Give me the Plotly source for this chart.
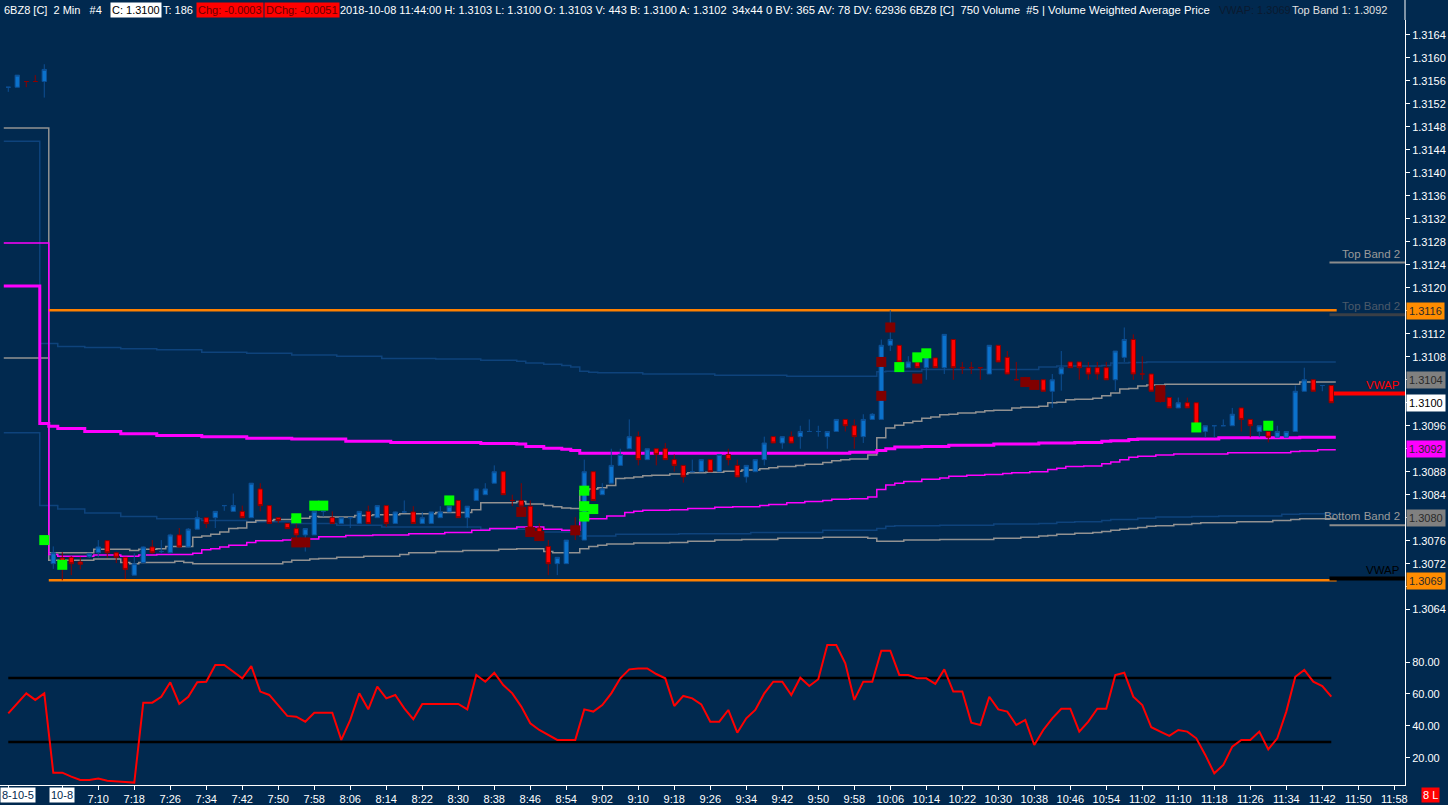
import plotly.graph_objects as go

# bar number: 0 = 7:00 on 2018-10-08, one bar = 2 minutes; bars -5..-1 are the end of 2018-10-05
bars = list(range(-5, 143))

opens = [
    1.31549, 1.31549, 1.31559, 1.31559, 1.31559,
    1.30720, 1.30730, 1.30731, 1.30723, 1.30732, 1.30739, 1.30760, 1.30739, 1.30731, 1.30700,
    1.30722, 1.30749, 1.30741, 1.30739, 1.30770, 1.30749, 1.30780, 1.30800, 1.30800, 1.30821,
    1.30811, 1.30811, 1.30800, 1.30850, 1.30821, 1.30800, 1.30790, 1.30781, 1.30770, 1.30770,
    1.30811, 1.30800, 1.30790, 1.30800, 1.30790, 1.30811, 1.30800, 1.30821, 1.30790, 1.30810,
    1.30810, 1.30790, 1.30790, 1.30800, 1.30810, 1.30830, 1.30800, 1.30830, 1.30840, 1.30860,
    1.30880, 1.30830, 1.30830, 1.30820, 1.30782, 1.30750, 1.30720, 1.30720, 1.30785, 1.30761,
    1.30880, 1.30840, 1.30860, 1.30891, 1.30920, 1.30941, 1.30901, 1.30920, 1.30920, 1.30901,
    1.30891, 1.30880, 1.30880, 1.30901, 1.30880, 1.30910, 1.30891, 1.30871, 1.30880, 1.30901,
    1.30941, 1.30930, 1.30941, 1.30941, 1.30950, 1.30950, 1.30941, 1.30950, 1.30971, 1.30960,
    1.30941, 1.30971, 1.30971, 1.31100, 1.31100, 1.31061, 1.31071, 1.31061, 1.31078, 1.31061,
    1.31110, 1.31061, 1.31061, 1.31061, 1.31050, 1.31100, 1.31079, 1.31040, 1.31040, 1.31035,
    1.31040, 1.31020, 1.31050, 1.31071, 1.31071, 1.31061, 1.31061, 1.31061, 1.31040, 1.31079,
    1.31110, 1.31050, 1.31050, 1.31028, 1.31009, 1.30991, 1.31000, 1.31000, 1.30950, 1.30960,
    1.30960, 1.30960, 1.30991, 1.30971, 1.30950, 1.30950, 1.30940, 1.30940, 1.30950, 1.31020,
    1.31040, 1.31030, 1.31030,
]
highs = [
    1.31549, 1.31570, 1.31559, 1.31570, 1.31589,
    1.30750, 1.30740, 1.30733, 1.30732, 1.30738, 1.30761, 1.30761, 1.30741, 1.30731, 1.30738,
    1.30750, 1.30761, 1.30761, 1.30772, 1.30782, 1.30782, 1.30812, 1.30800, 1.30811, 1.30821,
    1.30842, 1.30821, 1.30860, 1.30860, 1.30821, 1.30800, 1.30790, 1.30790, 1.30781, 1.30811,
    1.30811, 1.30811, 1.30800, 1.30800, 1.30811, 1.30821, 1.30821, 1.30821, 1.30811, 1.30830,
    1.30820, 1.30810, 1.30810, 1.30820, 1.30820, 1.30830, 1.30820, 1.30850, 1.30860, 1.30891,
    1.30880, 1.30840, 1.30860, 1.30830, 1.30790, 1.30761, 1.30731, 1.30761, 1.30801, 1.30901,
    1.30880, 1.30860, 1.30920, 1.30920, 1.30971, 1.30950, 1.30920, 1.30920, 1.30930, 1.30910,
    1.30891, 1.30901, 1.30901, 1.30901, 1.30910, 1.30920, 1.30901, 1.30891, 1.30901, 1.30941,
    1.30941, 1.30941, 1.30950, 1.30960, 1.30971, 1.30960, 1.30950, 1.30971, 1.30971, 1.30971,
    1.30980, 1.30982, 1.31110, 1.31161, 1.31100, 1.31081, 1.31071, 1.31081, 1.31078, 1.31119,
    1.31110, 1.31071, 1.31071, 1.31061, 1.31100, 1.31100, 1.31090, 1.31071, 1.31045, 1.31040,
    1.31040, 1.31050, 1.31090, 1.31071, 1.31071, 1.31071, 1.31071, 1.31071, 1.31090, 1.31131,
    1.31119, 1.31081, 1.31050, 1.31030, 1.31009, 1.31009, 1.31009, 1.31000, 1.30960, 1.30960,
    1.30971, 1.30991, 1.30991, 1.30971, 1.30960, 1.30950, 1.30960, 1.30950, 1.31030, 1.31061,
    1.31040, 1.31030, 1.31030,
]
lows = [
    1.31541, 1.31549, 1.31549, 1.31559, 1.31531,
    1.30711, 1.30691, 1.30700, 1.30710, 1.30730, 1.30731, 1.30730, 1.30721, 1.30693, 1.30700,
    1.30720, 1.30737, 1.30738, 1.30737, 1.30748, 1.30748, 1.30780, 1.30782, 1.30782, 1.30812,
    1.30810, 1.30800, 1.30800, 1.30811, 1.30790, 1.30790, 1.30781, 1.30761, 1.30741, 1.30770,
    1.30802, 1.30790, 1.30790, 1.30782, 1.30790, 1.30790, 1.30800, 1.30784, 1.30790, 1.30808,
    1.30790, 1.30790, 1.30790, 1.30800, 1.30810, 1.30800, 1.30782, 1.30830, 1.30840, 1.30860,
    1.30840, 1.30820, 1.30820, 1.30782, 1.30760, 1.30700, 1.30700, 1.30720, 1.30761, 1.30761,
    1.30830, 1.30840, 1.30860, 1.30891, 1.30920, 1.30891, 1.30901, 1.30891, 1.30901, 1.30880,
    1.30861, 1.30880, 1.30880, 1.30880, 1.30880, 1.30891, 1.30871, 1.30861, 1.30880, 1.30891,
    1.30930, 1.30920, 1.30930, 1.30920, 1.30950, 1.30941, 1.30920, 1.30950, 1.30950, 1.30920,
    1.30930, 1.30970, 1.30971, 1.31090, 1.31065, 1.31061, 1.31061, 1.31040, 1.31061, 1.31050,
    1.31040, 1.31050, 1.31050, 1.31040, 1.31050, 1.31071, 1.31050, 1.31040, 1.31030, 1.31025,
    1.31020, 1.30991, 1.31021, 1.31061, 1.31040, 1.31040, 1.31040, 1.31040, 1.31021, 1.31071,
    1.31040, 1.31040, 1.31020, 1.31000, 1.30991, 1.30991, 1.30991, 1.30960, 1.30940, 1.30940,
    1.30960, 1.30960, 1.30950, 1.30940, 1.30940, 1.30931, 1.30940, 1.30940, 1.30950, 1.31020,
    1.31020, 1.31020, 1.31000,
]
closes = [
    1.31549, 1.31570, 1.31559, 1.31559, 1.31580,
    1.30739, 1.30712, 1.30720, 1.30719, 1.30738, 1.30749, 1.30739, 1.30731, 1.30710, 1.30720,
    1.30749, 1.30739, 1.30741, 1.30770, 1.30749, 1.30780, 1.30800, 1.30790, 1.30811, 1.30821,
    1.30821, 1.30800, 1.30860, 1.30821, 1.30790, 1.30795, 1.30781, 1.30770, 1.30781, 1.30811,
    1.30811, 1.30790, 1.30800, 1.30800, 1.30811, 1.30790, 1.30821, 1.30790, 1.30810, 1.30810,
    1.30790, 1.30800, 1.30810, 1.30810, 1.30820, 1.30800, 1.30820, 1.30850, 1.30850, 1.30880,
    1.30840, 1.30830, 1.30820, 1.30782, 1.30765, 1.30720, 1.30731, 1.30761, 1.30775, 1.30880,
    1.30830, 1.30850, 1.30891, 1.30910, 1.30941, 1.30901, 1.30920, 1.30910, 1.30901, 1.30891,
    1.30871, 1.30880, 1.30901, 1.30880, 1.30910, 1.30901, 1.30871, 1.30891, 1.30901, 1.30930,
    1.30930, 1.30941, 1.30930, 1.30950, 1.30950, 1.30950, 1.30950, 1.30971, 1.30960, 1.30941,
    1.30971, 1.30980, 1.31100, 1.31110, 1.31071, 1.31071, 1.31061, 1.31081, 1.31061, 1.31119,
    1.31061, 1.31061, 1.31061, 1.31061, 1.31100, 1.31071, 1.31050, 1.31040, 1.31035, 1.31030,
    1.31020, 1.31040, 1.31061, 1.31061, 1.31061, 1.31050, 1.31050, 1.31040, 1.31090, 1.31110,
    1.31050, 1.31050, 1.31020, 1.31003, 1.30991, 1.31000, 1.30991, 1.30960, 1.30960, 1.30960,
    1.30960, 1.30980, 1.30971, 1.30960, 1.30960, 1.30940, 1.30950, 1.30950, 1.31020, 1.31040,
    1.31020, 1.31030, 1.31000,
]

rsi = [
    47.9, 54.0, 60.4, 56.3, 60.4,
    10.8, 10.8, 8.3, 6.3, 6.3, 7.1, 5.8, 5.6, 5.0, 4.6,
    54.6, 54.6, 58.3, 67.3, 53.8, 58.3, 67.3, 67.7, 78.1, 78.1,
    74.0, 69.8, 77.5, 61.5, 59.4, 53.1, 46.3, 45.8, 42.7, 48.3,
    48.3, 48.3, 31.3, 43.8, 60.4, 50.4, 64.6, 57.3, 59.4, 51.0,
    44.2, 53.8, 53.8, 53.8, 53.8, 53.8, 50.4, 71.9, 67.7, 73.3,
    65.6, 60.4, 52.1, 41.7, 37.5, 34.4, 31.3, 31.3, 31.3, 50.4,
    49.0, 53.1, 60.4, 69.8, 75.4, 76.0, 76.0, 72.5, 69.8, 52.5,
    58.8, 57.3, 53.5, 42.7, 42.7, 50.0, 35.8, 44.8, 50.0, 60.4,
    67.7, 67.7, 59.4, 70.2, 65.0, 69.2, 90.6, 90.6, 79.2, 56.3,
    67.7, 67.7, 87.1, 87.1, 71.9, 71.9, 69.8, 69.8, 66.3, 75.4,
    61.5, 61.5, 42.1, 40.6, 58.3, 50.4, 49.0, 40.6, 43.8, 28.1,
    37.5, 44.8, 50.8, 50.8, 36.5, 42.7, 50.8, 50.8, 71.9, 73.3,
    58.3, 53.1, 39.2, 36.5, 33.8, 37.5, 36.5, 32.3, 21.9, 10.4,
    15.6, 27.1, 31.3, 31.3, 36.5, 25.4, 32.3, 49.0, 70.8, 75.0,
    67.7, 65.0, 58.3,
]
rsi_levels = [70, 30]
rsi_ticks = ["20.00", "40.00", "60.00", "80.00"]

# stepped band lines: bar where a new value begins, and that value
vwap_bars = [-5, 0, 5, 9, 10, 12, 13, 16, 17, 18, 19, 20, 21, 22, 23, 25, 27, 29, 30, 34,
             36, 39, 43, 47, 48, 52, 53, 55, 56, 57, 58, 59, 60, 61, 62, 63, 64, 65, 66, 67,
             69, 71, 73, 75, 77, 79, 80, 81, 83, 84, 86, 87, 88, 89, 91, 92, 93, 94, 95, 96,
             97, 98, 99, 100, 101, 103, 104, 105, 107, 108, 110, 111, 112, 113, 114, 116, 117, 118, 119, 120,
             121, 122, 124, 139]
vwap_vals = [1.31478, 1.30739, 1.30745, 1.30743, 1.30745, 1.30746, 1.30750, 1.30766, 1.30768, 1.30771,
             1.30775, 1.30781, 1.30782, 1.30792, 1.30795, 1.30797, 1.30799, 1.30802, 1.30801, 1.30804,
             1.30805, 1.30807, 1.30809, 1.30814, 1.30826, 1.30828, 1.30824, 1.30821, 1.30819, 1.30817,
             1.30816, 1.30847, 1.30850, 1.30852, 1.30856, 1.30868, 1.30869, 1.30871, 1.30873, 1.30874,
             1.30876, 1.30878, 1.30879, 1.30881, 1.30883, 1.30885, 1.30887, 1.30889, 1.30891, 1.30893,
             1.30896, 1.30899, 1.30901, 1.30902, 1.30909, 1.30939, 1.30956, 1.30961, 1.30965, 1.30968,
             1.30973, 1.30975, 1.30979, 1.30980, 1.30982, 1.30984, 1.30986, 1.30987, 1.30991, 1.30992,
             1.30994, 1.31000, 1.31001, 1.31005, 1.31006, 1.31008, 1.31012, 1.31017, 1.31024, 1.31025,
             1.31029, 1.31031, 1.31032, 1.31036]

low_gray_bars = [-5, 0, 5, 8, 9, 10, 14, 15, 16, 26, 27, 29, 30, 32, 35, 39, 40, 43, 46, 50,
                 52, 55, 56, 59, 60, 61, 62, 65, 69, 71, 74, 77, 81, 86, 91, 92, 95, 99, 105, 108,
                 110, 111, 112, 114, 116, 117, 118, 119, 120, 121, 122, 123, 125, 127, 128, 132, 136, 138, 139]
low_gray_vals = [1.31078, 1.30726, 1.30728, 1.30722, 1.30720, 1.30722, 1.30724, 1.30722, 1.30720, 1.30723,
                 1.30726, 1.30728, 1.30729, 1.30731, 1.30733, 1.30736, 1.30739, 1.30741, 1.30743, 1.30745,
                 1.30746, 1.30741, 1.30739, 1.30746, 1.30750, 1.30752, 1.30754, 1.30756, 1.30757, 1.30759,
                 1.30761, 1.30762, 1.30764, 1.30766, 1.30764, 1.30759, 1.30761, 1.30762, 1.30764, 1.30766,
                 1.30768, 1.30769, 1.30771, 1.30773, 1.30774, 1.30776, 1.30778, 1.30780, 1.30781, 1.30783,
                 1.30785, 1.30786, 1.30788, 1.30790, 1.30791, 1.30793, 1.30795, 1.30797, 1.30798]

band1_top_bars = [-5, -1, 0, 1, 4, 8, 12, 17, 22, 27, 33, 38, 48, 52, 53, 55, 57, 58, 59, 89,
                  92, 93, 94, 97, 100, 105, 110, 114, 117, 118, 120, 121, 130, 139]
band1_top_vals = [1.31203, 1.30964, 1.30959, 1.30955, 1.30950, 1.30946, 1.30943, 1.30941, 1.30938, 1.30937,
                  1.30933, 1.30931, 1.30929, 1.30928, 1.30924, 1.30921, 1.30919, 1.30917, 1.30912, 1.30914,
                  1.30917, 1.30920, 1.30923, 1.30924, 1.30926, 1.30928, 1.30930, 1.30931, 1.30933, 1.30934,
                  1.30936, 1.30937, 1.30939, 1.30940]

band1_low_bars = [-5, 0, 1, 5, 8, 10, 12, 16, 17, 18, 19, 20, 22, 23, 26, 27, 30, 33, 36, 40,
                  44, 47, 49, 52, 55, 57, 59, 60, 62, 64, 65, 66, 69, 71, 74, 76, 79, 80, 82, 84,
                  86, 87, 89, 91, 92, 93, 94, 95, 97, 99, 100, 102, 104, 106, 107, 109, 111, 112, 113, 115,
                  117, 118, 119, 120, 121, 123, 125, 131, 138, 139, 141]
band1_low_vals = [1.31278, 1.30736, 1.30733, 1.30735, 1.30733, 1.30735, 1.30736, 1.30738, 1.30744, 1.30746,
                  1.30749, 1.30752, 1.30757, 1.30760, 1.30761, 1.30763, 1.30767, 1.30769, 1.30770, 1.30772,
                  1.30774, 1.30778, 1.30781, 1.30784, 1.30780, 1.30778, 1.30797, 1.30798, 1.30803, 1.30809,
                  1.30811, 1.30813, 1.30814, 1.30816, 1.30818, 1.30819, 1.30821, 1.30823, 1.30826, 1.30828,
                  1.30830, 1.30832, 1.30833, 1.30836, 1.30849, 1.30857, 1.30860, 1.30863, 1.30867, 1.30869,
                  1.30872, 1.30874, 1.30875, 1.30877, 1.30878, 1.30880, 1.30884, 1.30886, 1.30889, 1.30890,
                  1.30894, 1.30897, 1.30901, 1.30905, 1.30907, 1.30909, 1.30911, 1.30913, 1.30915, 1.30916,
                  1.30918]

band2_top_bars = [-5, -1, 1, 4, 8, 12, 17, 22, 27, 32, 37, 43, 48, 52, 53, 55, 57, 58, 59, 60,
                  61, 66, 74, 82, 92, 93, 97, 110, 112, 117, 118, 120, 122]
band2_top_vals = [1.31455, 1.31103, 1.31098, 1.31096, 1.31094, 1.31092, 1.31088, 1.31086, 1.31083, 1.31081,
                  1.31077, 1.31076, 1.31074, 1.31072, 1.31069, 1.31067, 1.31065, 1.31062, 1.31055, 1.31053,
                  1.31052, 1.31050, 1.31048, 1.31046, 1.31054, 1.31055, 1.31058, 1.31062, 1.31064, 1.31065,
                  1.31069, 1.31070, 1.31071]

band2_low_bars = [-5, -1, 1, 4, 8, 12, 17, 22, 27, 32, 37, 48, 53, 59, 63, 70, 78, 86, 92, 93,
                  94, 99, 105, 110, 112, 114, 117, 118, 121, 123, 127, 130, 137, 139]
band2_low_vals = [1.30948, 1.30821, 1.30815, 1.30808, 1.30802, 1.30798, 1.30795, 1.30793, 1.30790, 1.30787,
                  1.30784, 1.30780, 1.30775, 1.30768, 1.30771, 1.30772, 1.30774, 1.30778, 1.30781, 1.30785,
                  1.30786, 1.30787, 1.30789, 1.30790, 1.30792, 1.30793, 1.30795, 1.30797, 1.30799, 1.30801,
                  1.30802, 1.30803, 1.30806, 1.30807]

# signal squares
green_bars = [-1, 1, 27, 29, 30, 44, 59, 59, 59, 60, 94, 96, 97, 127, 135]
green_prices = [1.30761, 1.30718, 1.30799, 1.30821, 1.30821, 1.30830, 1.30847, 1.30820, 1.30802, 1.30815,
                1.31062, 1.31079, 1.31086, 1.30957, 1.30960]
maroon_bars = [27, 28, 52, 53, 54, 58, 92, 92, 93, 96, 108, 109, 123, 123]
maroon_prices = [1.30757, 1.30757, 1.30810, 1.30775, 1.30768, 1.30778, 1.31071, 1.31012, 1.31131, 1.31042,
                 1.31036, 1.31031, 1.31022, 1.31010]

session_high = 1.31161
session_low = 1.30691

ref_levels = [1.31244, 1.31153, 1.31016, 1.30787, 1.30694]
ref_names = ["Top Band 2", "Top Band 2", "VWAP", "Bottom Band 2", "VWAP"]
ref_line_colors = ["#8c8c8c", "#3a3f46", "#ff0000", "#8c8c8c", "#000000"]
ref_text_colors = ["#9a9a9a", "#4c5a6a", "#ff0000", "#9a9a9a", "#000000"]
ref_widths = [2, 3, 4, 2, 4]

box_texts = ["1.3116", "1.3104", "1.3100", "1.3092", "1.3080", "1.3069"]
box_colors = ["#ff8c00", "#808080", "#ffffff", "#ff00ff", "#808080", "#ff8c00"]

# price scale labels; the ones hidden under the price boxes are left blank
price_ticks = ["1.3064", "1.3068", "1.3072", "1.3076", "1.3080", "1.3084", "1.3088", "1.3092", "1.3096",
               "1.3100", "1.3104", "1.3108", "1.3112", "1.3116", "1.3120", "1.3124", "1.3128", "1.3132",
               "1.3136", "1.3140", "1.3144", "1.3148", "1.3152", "1.3156", "1.3160", "1.3164"]
covered_ticks = ["1.3068", "1.3080", "1.3092", "1.3100", "1.3104", "1.3116"]

tick_text = ["", "", "7:10", "7:18", "7:26", "7:34", "7:42", "7:50", "7:58", "8:06", "8:14", "8:22",
             "8:30", "8:38", "8:46", "8:54", "9:02", "9:10", "9:18", "9:26", "9:34", "9:42", "9:50",
             "9:58", "10:06", "10:14", "10:22", "10:30", "10:38", "10:46", "10:54", "11:02", "11:10",
             "11:18", "11:26", "11:34", "11:42", "11:50", "11:58"]
tick_bars = [-5, 1] + list(range(5, 150, 4))

BG = "#01294f"
FONT = "Liberation Sans, Arial, sans-serif"
X_LO, X_HI = -5.92, 150.19
Y_LO, Y_HI = 1.30608, 1.31666


def steps(bar_list, vals):
    xs = [b - 0.5 for b in bar_list] + [142.5]
    return xs, vals + [vals[-1]]


fig = go.Figure()

line_specs = [
    (band2_top_bars, band2_top_vals, "#0e437c", 1.5),
    (band2_low_bars, band2_low_vals, "#0e437c", 1.5),
    (low_gray_bars, low_gray_vals, "#929292", 1.5),
    (vwap_bars, vwap_vals, "#929292", 1.5),
    (band1_low_bars, band1_low_vals, "#ff00ff", 1.5),
    (band1_top_bars, band1_top_vals, "#ff00ff", 3),
]
for b, v, c, w in line_specs:
    xs, ys = steps(b, v)
    fig.add_trace(go.Scatter(x=xs, y=ys, mode="lines", line=dict(color=c, width=w, shape="hv"),
                             hoverinfo="skip", xaxis="x", yaxis="y"))

for lvl in [session_high, session_low]:
    fig.add_trace(go.Scatter(x=[-0.5, 142.6], y=[lvl, lvl], mode="lines",
                             line=dict(color="#ff8000", width=2.5), hoverinfo="skip", yaxis="y"))

for lvl, c, w in zip(ref_levels, ref_line_colors, ref_widths):
    fig.add_trace(go.Scatter(x=[141.8, X_HI], y=[lvl, lvl], mode="lines",
                             line=dict(color=c, width=w), hoverinfo="skip", yaxis="y"))

fig.add_trace(go.Candlestick(
    x=bars, open=opens, high=highs, low=lows, close=closes,
    increasing=dict(line=dict(color="#0d4f94", width=1), fillcolor="#0b72cc"),
    decreasing=dict(line=dict(color="#8b0000", width=1), fillcolor="#ff0000"),
    whiskerwidth=0, xaxis="x", yaxis="y3", hoverinfo="skip",
))
fig.add_trace(go.Scatter(x=green_bars, y=green_prices, mode="markers",
                         marker=dict(symbol="square", size=10, color="#00ff00"),
                         hoverinfo="skip", yaxis="y3"))
fig.add_trace(go.Scatter(x=maroon_bars, y=maroon_prices, mode="markers",
                         marker=dict(symbol="square", size=10, color="#800000"),
                         hoverinfo="skip", yaxis="y3"))

# RSI pane
for lvl in rsi_levels:
    fig.add_trace(go.Scatter(x=[-5, 142], y=[lvl, lvl], mode="lines",
                             line=dict(color="#000000", width=2.5), hoverinfo="skip", yaxis="y2"))
fig.add_trace(go.Scatter(x=bars, y=rsi, mode="lines", line=dict(color="#ff0000", width=2),
                         hoverinfo="skip", yaxis="y2"))

axis_common = dict(showgrid=False, zeroline=False, showline=True, linecolor="#ffffff", linewidth=1,
                   ticks="outside", ticklen=4, tickcolor="#ffffff", tickwidth=1,
                   tickfont=dict(family=FONT, size=11, color="#ffffff"))

fig.update_layout(
    width=1448, height=805,
    margin=dict(l=0, r=43, t=20, b=20),
    paper_bgcolor=BG, plot_bgcolor=BG,
    showlegend=False,
    font=dict(family=FONT, size=11, color="#ffffff"),
    xaxis=dict(range=[X_LO, X_HI], anchor="y2", tickvals=tick_bars, ticktext=tick_text,
               rangeslider=dict(visible=False), **axis_common),
    yaxis=dict(domain=[0.2052, 1], range=[Y_LO, Y_HI], side="right", anchor="x",
               tickvals=[float(t) for t in price_ticks],
               ticktext=["" if t in covered_ticks else t for t in price_ticks], **axis_common),
    yaxis2=dict(domain=[0, 0.2052], range=[3.1, 101.25], side="right", anchor="x",
                tickvals=[float(t) for t in rsi_ticks], ticktext=rsi_ticks, **axis_common),
    yaxis3=dict(overlaying="y", range=[Y_LO, Y_HI], visible=False, anchor="x"),
)

# axis line carried up through the header row
fig.add_shape(type="line", xref="paper", yref="paper", x0=1, x1=1, y0=1, y1=1.03,
              line=dict(color="#ffffff", width=1))

# header row
W = 1405.0
header = [
    (2, "6BZ8 [C]&#160;&#160;2 Min&#160;&#160;&#160;#4", None, "#ffffff", 11),
    (110, "C: 1.3100", "#ffffff", "#000000", 11),
    (161, "T: 186", None, "#ffffff", 11),
    (196, "Chg: -0.0003", "#ff0000", "#6a0000", 11),
    (264, "DChg: -0.0051", "#ff0000", "#6a0000", 11),
    (338, "2018-10-08 11:44:00 H: 1.3103 L: 1.3100 O: 1.3103 V: 443 B: 1.3100 A: 1.3102", None, "#ffffff", 11),
    (730, "34x44 0 BV: 365 AV: 78 DV: 62936 6BZ8 [C]&#160;&#160;750 Volume&#160;&#160;#5 | Volume Weighted Average Price",
     None, "#ffffff", 11.3),
    (1217, "VWAP: 1.3069", None, "#0a1a30", 11),
    (1290, "Top Band 1: 1.3092", None, "#e0e0e0", 11),
]
for px, txt, bg, fc, fs in header:
    fig.add_annotation(xref="paper", yref="paper", x=px / W, y=1.0137, xanchor="left", yanchor="middle",
                       text=txt, showarrow=False, bgcolor=bg, borderpad=1,
                       font=dict(family=FONT, size=fs, color=fc))

# band names above their end stubs
for lvl, name, c in zip(ref_levels, ref_names, ref_text_colors):
    fig.add_annotation(xref="paper", yref="y", x=1402 / W, y=lvl, xanchor="right", yanchor="bottom",
                       text=name, showarrow=False, yshift=1, font=dict(family=FONT, size=11.5, color=c))

# price boxes on the right scale
for txt, c in zip(box_texts, box_colors):
    fig.add_annotation(xref="paper", yref="y", x=1.0, y=float(txt), xanchor="left", yanchor="middle",
                       xshift=1, text=txt, showarrow=False, bgcolor=c, borderpad=2,
                       font=dict(family=FONT, size=11, color="#000000" if c == "#ffffff" else "#2a2a2a"))

# date markers on the time scale
fig.add_annotation(xref="paper", yref="paper", x=0.0, y=-0.003, xanchor="left", yanchor="top",
                   text="8-10-5", showarrow=False, bgcolor="#ffffff", borderpad=1,
                   font=dict(family=FONT, size=11, color="#01294f"))
fig.add_annotation(xref="x", yref="paper", x=1, y=-0.003, xanchor="center", yanchor="top",
                   text="10-8", showarrow=False, bgcolor="#ffffff", borderpad=1,
                   font=dict(family=FONT, size=11, color="#01294f"))
fig.add_annotation(xref="paper", yref="paper", x=1430 / W, y=-0.003, xanchor="center", yanchor="top",
                   text="8 L", showarrow=False, bgcolor="#ff0000", borderpad=1,
                   font=dict(family=FONT, size=11, color="#ffffff"))

fig.write_html("out.html", config={"displayModeBar": False},
               post_script="document.body.style.margin='0px';document.body.style.overflow='hidden';")
